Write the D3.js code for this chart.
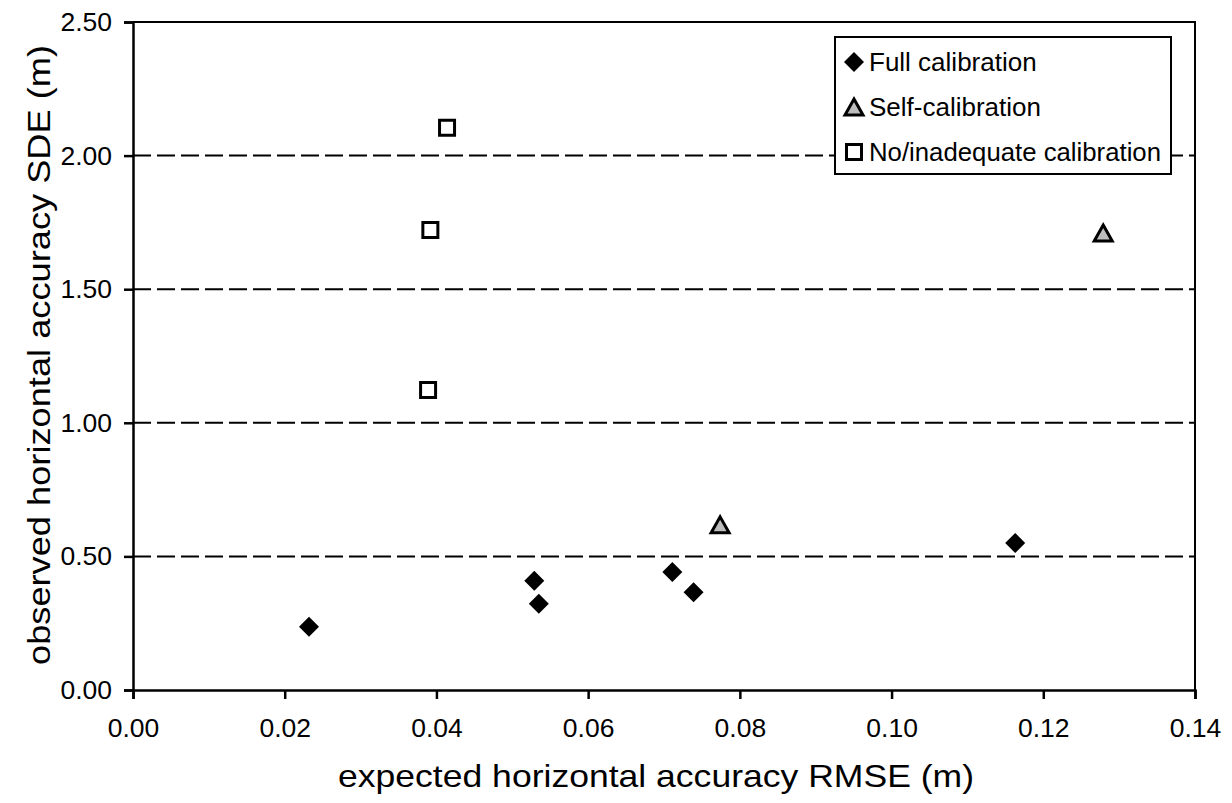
<!DOCTYPE html>
<html>
<head>
<meta charset="utf-8">
<script src="https://cdn.jsdelivr.net/npm/d3@7"></script>
<style>
  body { margin: 0; background: #fff; }
  svg { display: block; font-family: "Liberation Sans", Arial, sans-serif; }
</style>
</head>
<body>
<svg id="chart" width="1232" height="803"></svg>
<script>
// values
const fullX = [0.0232, 0.0529, 0.0535, 0.0711, 0.0739, 0.1163];
const fullY = [0.237, 0.409, 0.323, 0.442, 0.366, 0.550];
const selfX = [0.0774, 0.1279];
const selfY = [0.618, 1.710];
const noneX = [0.0414, 0.0392, 0.0389];
const noneY = [2.104, 1.722, 1.123];
const xTicks = [0, 0.02, 0.04, 0.06, 0.08, 0.10, 0.12, 0.14];
const yTicks = [0, 0.5, 1.0, 1.5, 2.0, 2.5];
const legendLabels = ["Full calibration", "Self-calibration", "No/inadequate calibration"];

const svg = d3.select("#chart");
const plotL = 133, plotR = 1195, plotT = 22, plotB = 690;

const x = d3.scaleLinear().domain([0, 0.14]).range([plotL, plotR]);
const y = d3.scaleLinear().domain([0, 2.5]).range([plotB, plotT]);

// dashed gridlines
svg.append("g").selectAll("line")
  .data(yTicks.filter(d => d > 0 && d < 2.5))
  .join("line")
  .attr("x1", plotL).attr("x2", plotR)
  .attr("y1", d => y(d)).attr("y2", d => y(d))
  .attr("stroke", "#000").attr("stroke-width", 2)
  .attr("stroke-dasharray", "18,6");

// frame (top + right)
svg.append("path")
  .attr("d", `M${plotL},${plotT}H${plotR}V${plotB}`)
  .attr("fill", "none").attr("stroke", "#000").attr("stroke-width", 2);

const xAxis = svg.append("g")
  .attr("transform", `translate(0,${plotB})`)
  .call(d3.axisBottom(x).tickValues(xTicks).tickFormat(d3.format(".2f")).tickSizeOuter(0).tickSize(9).tickPadding(19));
const yAxis = svg.append("g")
  .attr("transform", `translate(${plotL},0)`)
  .call(d3.axisLeft(y).tickValues(yTicks).tickFormat(d3.format(".2f")).tickSizeOuter(0).tickSize(9).tickPadding(12));

[xAxis, yAxis].forEach(a => {
  a.select(".domain").attr("stroke", "#000").attr("stroke-width", 2.5);
  a.selectAll(".tick line").attr("stroke", "#000").attr("stroke-width", 2.5);
  a.selectAll(".tick text").attr("fill", "#000").style("font-size", "26.5px")
    .style("font-family", "'Liberation Sans', Arial, sans-serif");
});

// marker shapes
const diamond = "M0,-10L10,0L0,10L-10,0Z";
const square = "M-7.5,-7.5H7.5V7.5H-7.5Z";
const triangle = "M0,-8L9,8H-9Z";

function addPoints(xs, ys, shape, fill) {
  svg.append("g").selectAll("path")
    .data(xs.map((v, i) => [v, ys[i]]))
    .join("path")
    .attr("d", shape)
    .attr("transform", d => `translate(${x(d[0])},${y(d[1])})`)
    .attr("fill", fill)
    .attr("stroke", "#000")
    .attr("stroke-width", shape === diamond ? 0 : 3)
    .attr("stroke-linejoin", "miter");
}
addPoints(fullX, fullY, diamond, "#000");
addPoints(selfX, selfY, triangle, "#bdbdbd");
addPoints(noneX, noneY, square, "#fff");

// legend
const lg = svg.append("g");
lg.append("rect")
  .attr("x", 835).attr("y", 37).attr("width", 336).attr("height", 137)
  .attr("fill", "#fff").attr("stroke", "#000").attr("stroke-width", 2);
const shapes = [[diamond, "#000", 0], [triangle, "#bdbdbd", 3], [square, "#fff", 3]];
const legendY = [62, 107, 152];
legendLabels.forEach((t, i) => {
  lg.append("path").attr("d", shapes[i][0])
    .attr("transform", `translate(854,${legendY[i]})`)
    .attr("fill", shapes[i][1]).attr("stroke", "#000").attr("stroke-width", shapes[i][2]);
  lg.append("text").attr("x", 869).attr("y", legendY[i] + 9)
    .attr("textLength", 292).attr("lengthAdjust", "spacingAndGlyphs")
    .style("font-size", "26px").text(t);
});
// only the longest label gets a forced width; the others keep their natural width
lg.selectAll("text").filter((d, i) => i < 2).attr("textLength", null);

// axis titles
svg.append("text")
  .attr("x", 338).attr("y", 787)
  .attr("textLength", 636).attr("lengthAdjust", "spacingAndGlyphs")
  .style("font-size", "32px")
  .text("expected horizontal accuracy RMSE (m)");

svg.append("text")
  .attr("transform", "translate(50,665) rotate(-90)")
  .attr("textLength", 620).attr("lengthAdjust", "spacingAndGlyphs")
  .style("font-size", "32px")
  .text("observed horizontal accuracy SDE (m)");
</script>
</body>
</html>
